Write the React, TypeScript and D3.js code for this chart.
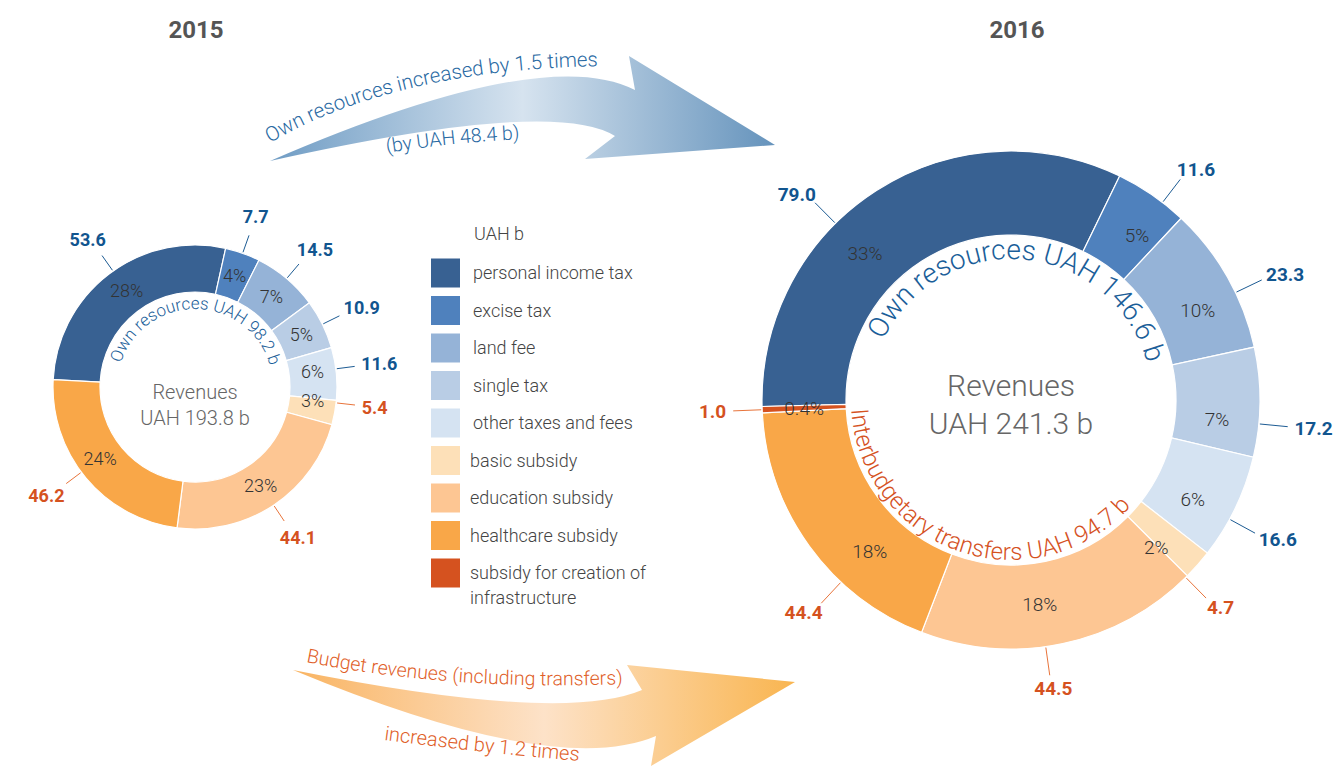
import React from "react";
import * as d3 from "d3";

// ---------- data ----------
const categories = [
  "personal income tax",
  "excise tax",
  "land fee",
  "single tax",
  "other taxes and fees",
  "basic subsidy",
  "education subsidy",
  "healthcare subsidy",
  "subsidy for creation of infrastructure",
];
const ownFlags = [true, true, true, true, true, false, false, false, false];
const values2015 = [53.6, 7.7, 14.5, 10.9, 11.6, 5.4, 44.1, 46.2, 0];
const values2016 = [79.0, 11.6, 23.3, 17.2, 16.6, 4.7, 44.5, 44.4, 1.0];
const pct2015 = ["28%", "4%", "7%", "5%", "6%", "3%", "23%", "24%", ""];
const pct2016 = ["33%", "5%", "10%", "7%", "6%", "2%", "18%", "18%", "0.4%"];
const years = ["2015", "2016"];
const centerTotals = ["UAH 193.8 b", "UAH 241.3 b"];
const ownLabels = ["Own resources UAH 98.2 b", "Own resources UAH 146.6 b"];
const transferLabel2016 = "Interbudgetary transfers UAH 94.7 b";
const legendTitle = "UAH b";
const arrowTopTexts = ["Own resources increased by 1.5 times", "(by UAH 48.4 b)"];
const arrowBottomTexts = ["Budget revenues (including transfers)", "increased by 1.2 times"];

// ---------- styles ----------
const COLORS = ["#386192", "#4f81bd", "#95b3d7", "#b9cde5", "#d5e3f2", "#fde0b8", "#fdc693", "#f9a748", "#d5521f"];
const BLUE_TEXT = "#11558f";
const ORANGE_TEXT = "#d5521f";
const FONT = "Roboto, 'Open Sans', 'DejaVu Sans', sans-serif";

const W = 1338;
const H = 767;

type DonutCfg = {
  cx: number;
  cy: number;
  rOuter: number;
  rInner: number;
  startDeg: number;
  values: number[];
  pcts: string[];
  pctSize: number;
  valSize: number;
  lineLen: number;
  padX: number;
  padY: number;
  nudge: number[];
  centerSize: number;
  centerGap: number;
  centerDy: number;
  ownSize: number;
  ownR: number;
  ownCenterDeg: number;
  transfer?: { text: string; size: number; r: number; centerDeg: number };
};

const rad = (d: number) => (d * Math.PI) / 180;

function pt(cx: number, cy: number, r: number, a: number): [number, number] {
  return [cx + r * Math.sin(a), cy - r * Math.cos(a)];
}

function Donut({ cfg, idx }: { cfg: DonutCfg; idx: number }) {
  const { cx, cy, rOuter, rInner } = cfg;
  const items = categories.map((c, i) => ({ c, i, v: cfg.values[i] })).filter((d) => d.v > 0);
  const pie = d3
    .pie<{ c: string; i: number; v: number }>()
    .value((d) => d.v)
    .sort(null)
    .startAngle(rad(cfg.startDeg))
    .endAngle(rad(cfg.startDeg + 360));
  const arcs = pie(items);
  const arcGen = d3.arc<d3.PieArcDatum<any>>().innerRadius(rInner).outerRadius(rOuter);
  const rMid = (rInner + rOuter) / 2;

  const oc = rad(cfg.ownCenterDeg);
  const o0 = pt(cx, cy, cfg.ownR, oc - rad(160));
  const o1 = pt(cx, cy, cfg.ownR, oc + rad(160));
  const ownPath = `M${o0[0]},${o0[1]} A${cfg.ownR},${cfg.ownR} 0 1 1 ${o1[0]},${o1[1]}`;

  let transferPath = "";
  if (cfg.transfer) {
    const tc = rad(cfg.transfer.centerDeg);
    const t0 = pt(cx, cy, cfg.transfer.r, tc + rad(160));
    const t1 = pt(cx, cy, cfg.transfer.r, tc - rad(160));
    transferPath = `M${t0[0]},${t0[1]} A${cfg.transfer.r},${cfg.transfer.r} 0 1 0 ${t1[0]},${t1[1]}`;
  }

  return (
    <g>
      <g transform={`translate(${cx},${cy})`}>
        {arcs.map((a) => (
          <path key={a.data.c} d={arcGen(a) || ""} fill={COLORS[a.data.i]} stroke="#fff" strokeWidth={1.2} />
        ))}
      </g>
      {arcs.map((a) => {
        const mid = (a.startAngle + a.endAngle) / 2 + rad(cfg.nudge[a.data.i]);
        const [px, py] = pt(cx, cy, rMid, mid);
        return (
          <text
            key={"p" + a.data.c}
            x={px}
            y={py}
            textAnchor="middle"
            dominantBaseline="central"
            fontSize={cfg.pctSize}
            fill="#333"
            fontWeight={300}
          >
            {cfg.pcts[a.data.i]}
          </text>
        );
      })}
      {arcs.map((a) => {
        const mid = (a.startAngle + a.endAngle) / 2 + rad(cfg.nudge[a.data.i]);
        const [x1, y1] = pt(cx, cy, rOuter + 1, mid);
        const [x2, y2] = pt(cx, cy, rOuter + cfg.lineLen, mid);
        const s = Math.sin(mid);
        const c = Math.cos(mid);
        const label = d3.format(".1f")(cfg.values[a.data.i]);
        const w = label.length * 0.55 * cfg.valSize;
        const h = 0.72 * cfg.valSize;
        const tx = x2 + s * (w / 2 + cfg.padX);
        const ty = y2 - c * (h / 2 + cfg.padY) + 0.36 * cfg.valSize;
        const col = ownFlags[a.data.i] ? BLUE_TEXT : ORANGE_TEXT;
        return (
          <g key={"v" + a.data.c}>
            <line x1={x1} y1={y1} x2={x2} y2={y2} stroke={ownFlags[a.data.i] ? "#1c5b93" : "#e8743b"} strokeWidth={1} />
            <text x={tx} y={ty} textAnchor="middle" fontSize={cfg.valSize} fontWeight={700} fill={col}>
              {label}
            </text>
          </g>
        );
      })}
      <defs>
        <path id={"own" + idx} d={ownPath} />
        {cfg.transfer && <path id={"tr" + idx} d={transferPath} />}
      </defs>
      <text fontSize={cfg.ownSize} fill="#1a5e99" fontWeight={300}>
        <textPath href={"#own" + idx} startOffset="50%" textAnchor="middle">
          {ownLabels[idx]}
        </textPath>
      </text>
      {cfg.transfer && (
        <text fontSize={cfg.transfer.size} fill={ORANGE_TEXT} fontWeight={300}>
          <textPath href={"#tr" + idx} startOffset="50%" textAnchor="middle">
            {cfg.transfer.text}
          </textPath>
        </text>
      )}
      <text x={cx} y={cy + cfg.centerDy} textAnchor="middle" fontSize={cfg.centerSize} fill="#666" fontWeight={300}>
        Revenues
      </text>
      <text
        x={cx}
        y={cy + cfg.centerDy + cfg.centerGap}
        textAnchor="middle"
        fontSize={cfg.centerSize}
        fill="#666"
        fontWeight={300}
      >
        {centerTotals[idx]}
      </text>
    </g>
  );
}

function quadMid(p0: number[], mid: number[], p2: number[]) {
  return [2 * mid[0] - 0.5 * (p0[0] + p2[0]), 2 * mid[1] - 0.5 * (p0[1] + p2[1])];
}

function arrowPath(tail: number[], upMid: number[], upNotch: number[], barb1: number[], tip: number[], barb2: number[], loNotch: number[], loMid: number[]) {
  const p = d3.path();
  const c1 = quadMid(tail, upMid, upNotch);
  const c2 = quadMid(loNotch, loMid, tail);
  p.moveTo(tail[0], tail[1]);
  p.quadraticCurveTo(c1[0], c1[1], upNotch[0], upNotch[1]);
  p.lineTo(barb1[0], barb1[1]);
  p.lineTo(tip[0], tip[1]);
  p.lineTo(barb2[0], barb2[1]);
  p.lineTo(loNotch[0], loNotch[1]);
  p.quadraticCurveTo(c2[0], c2[1], tail[0], tail[1]);
  p.closePath();
  return p.toString();
}

function curve(p0: number[], mid: number[], p2: number[]) {
  const c = quadMid(p0, mid, p2);
  return `M${p0[0]},${p0[1]} Q${c[0]},${c[1]} ${p2[0]},${p2[1]}`;
}

export default function App() {
  const donuts: DonutCfg[] = [
    {
      cx: 195,
      cy: 387,
      rOuter: 142,
      rInner: 95,
      startDeg: -87,
      values: values2015,
      pcts: pct2015,
      pctSize: 18,
      valSize: 18,
      lineLen: 19,
      padX: 5,
      padY: 13,
      nudge: [2, 0, 0, 0, -2, -4, 0, 3, 0],
      centerSize: 20,
      centerGap: 26,
      centerDy: 12,
      ownSize: 17,
      ownR: 78,
      ownCenterDeg: 1,
    },
    {
      cx: 1011,
      cy: 400,
      rOuter: 249,
      rInner: 165,
      startDeg: -91.5,
      values: values2016,
      pcts: pct2016,
      pctSize: 19,
      valSize: 19,
      lineLen: 29,
      padX: 5,
      padY: 6,
      nudge: [-12, 3, 4, 5, 3, 4, 4, -11, 0],
      centerSize: 30,
      centerGap: 38,
      centerDy: -4,
      ownSize: 28,
      ownR: 141,
      ownCenterDeg: 5,
      transfer: { text: transferLabel2016, size: 24, r: 160, centerDeg: 199 },
    },
  ];

  const legendX = 431;
  const legendY0 = 273;
  const legendStep = 37.5;
  const legendRows = categories.map((c, i) => ({ c, i }));

  const topArrow = arrowPath([270, 161], [498, 84], [635, 90], [629, 56], [775, 145], [585, 159], [615, 136], [498, 123]);
  const botArrow = arrowPath([293, 670], [515, 702], [642, 690], [627, 665], [795, 682], [651, 766], [656, 736], [515, 741]);

  return (
    <svg
      width={W}
      height={H}
      viewBox={`0 0 ${W} ${H}`}
      style={{ position: "absolute", left: 0, top: 0, background: "#fff" }}
      fontFamily={FONT}
    >
      <defs>
        <linearGradient id="gTop" gradientUnits="userSpaceOnUse" x1={270} y1={0} x2={775} y2={0}>
          <stop offset="0" stopColor="#6f9cc4" />
          <stop offset="0.5" stopColor="#d6e3ef" />
          <stop offset="1" stopColor="#6593bc" />
        </linearGradient>
        <linearGradient id="gBot" gradientUnits="userSpaceOnUse" x1={293} y1={0} x2={795} y2={0}>
          <stop offset="0" stopColor="#f9b462" />
          <stop offset="0.5" stopColor="#fde2c8" />
          <stop offset="1" stopColor="#f9b550" />
        </linearGradient>
        <path id="tA1" d={curve([270, 143], [420, 86], [612, 66])} />
        <path id="tA2" d={curve([387, 153], [455, 144], [526, 139])} />
        <path id="tB1" d={curve([306, 662], [460, 682], [626, 684])} />
        <path id="tB2" d={curve([384, 740], [485, 752], [592, 762])} />
      </defs>

      {years.map((y, i) => (
        <text
          key={y}
          x={i === 0 ? 196 : 1017}
          y={38}
          textAnchor="middle"
          fontSize={24}
          fontWeight={700}
          fill="#555"
        >
          {y}
        </text>
      ))}

      <path d={topArrow} fill="url(#gTop)" />
      <path d={botArrow} fill="url(#gBot)" />
      <text fontSize={20.5} fill="#2a6aa3" fontWeight={300}>
        <textPath href="#tA1">{arrowTopTexts[0]}</textPath>
      </text>
      <text fontSize={19.5} fill="#2a6aa3" fontWeight={300}>
        <textPath href="#tA2">{arrowTopTexts[1]}</textPath>
      </text>
      <text fontSize={19.5} fill="#df5f2a" fontWeight={300}>
        <textPath href="#tB1">{arrowBottomTexts[0]}</textPath>
      </text>
      <text fontSize={20} fill="#df5f2a" fontWeight={300}>
        <textPath href="#tB2">{arrowBottomTexts[1]}</textPath>
      </text>

      {donuts.map((d, i) => (
        <Donut key={i} cfg={d} idx={i} />
      ))}

      <text x={474} y={240} fontSize={18} fill="#444" fontWeight={300}>
        {legendTitle}
      </text>
      {legendRows.map(({ c, i }) => {
        const yc = legendY0 + i * legendStep;
        const words = c === "subsidy for creation of infrastructure" ? ["subsidy for creation of", "infrastructure"] : [c];
        return (
          <g key={c}>
            <rect x={legendX} y={yc - 14.5} width={29} height={29} fill={COLORS[i]} />
            <text x={ownFlags[i] ? 473 : 470} y={yc + 6} fontSize={18} fill="#444" fontWeight={300}>
              {words.map((w, k) => (
                <tspan key={k} x={ownFlags[i] ? 473 : 470} dy={k === 0 ? 0 : 25}>
                  {w}
                </tspan>
              ))}
            </text>
          </g>
        );
      })}
    </svg>
  );
}
